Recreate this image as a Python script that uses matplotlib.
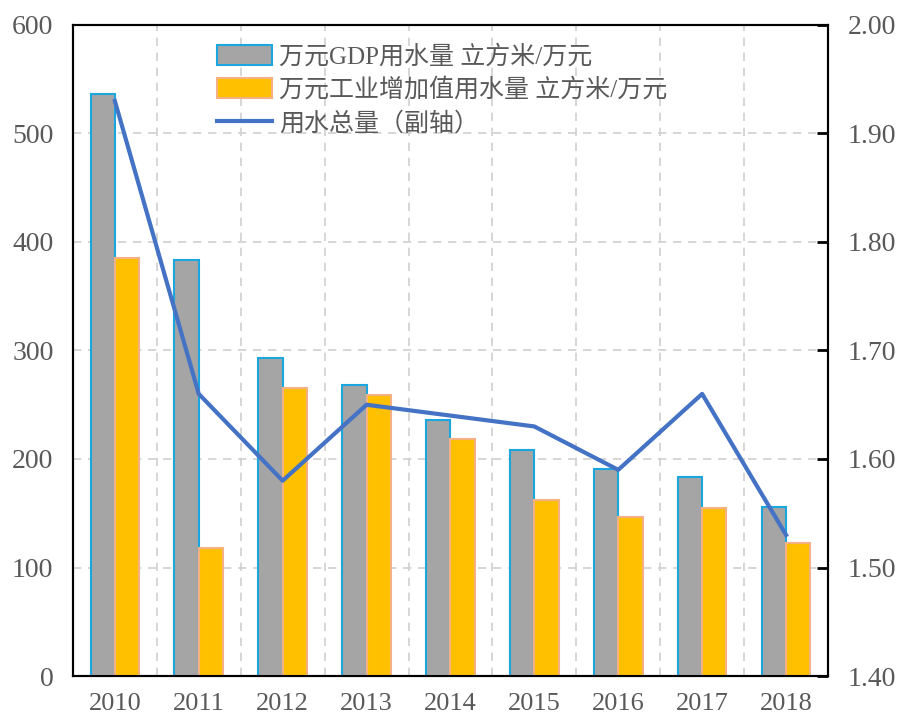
import numpy as np
import matplotlib.pyplot as plt

years = ["2010", "2011", "2012", "2013", "2014", "2015", "2016", "2017", "2018"]
gdp_water = [536, 383, 293, 268, 236, 208, 191, 183, 156]
ind_water = [385, 118, 265, 259, 218, 162, 147, 155, 123]
total_water = [1.93, 1.66, 1.58, 1.65, 1.64, 1.63, 1.59, 1.66, 1.53]

txt = "#595959"
serif = ["Liberation Serif", "Noto Sans CJK SC"]

fig = plt.figure(figsize=(9, 7.22), dpi=100)
ax = fig.add_axes([0.081, 0.0637, 0.839, 0.9017])
ax2 = ax.twinx()

x = np.arange(len(years))
w = 0.29
ax.bar(x - w / 2, gdp_water, w, color="#A5A5A5", edgecolor="#1AA7E0", linewidth=1.5,
       label="万元GDP用水量 立方米/万元", zorder=3)
ax.bar(x + w / 2, ind_water, w, color="#FFC000", edgecolor="#F4B183", linewidth=1.5,
       label="万元工业增加值用水量 立方米/万元", zorder=3)
ax2.plot(x, total_water, color="#4472C4", linewidth=3, label="用水总量（副轴）")

ax.set_xlim(-0.5, len(years) - 0.5)
ax.set_ylim(0, 600)
ax.set_yticks(np.arange(0, 601, 100))
ax2.set_ylim(1.4, 2.0)
ax2.set_yticks(np.arange(1.4, 2.001, 0.1))
ax2.set_yticklabels([f"{v:.2f}" for v in np.arange(1.4, 2.001, 0.1)])

ax.set_xticks(x)
ax.set_xticklabels(years)
ax.set_xticks(np.arange(0.5, len(years) - 0.5, 1), minor=True)
ax.grid(axis="y", which="major", color="#D0D0D0", linestyle=(0, (5, 4)), linewidth=1.2, zorder=0)
ax.grid(axis="x", which="minor", color="#D0D0D0", linestyle=(0, (5, 4)), linewidth=1.2, zorder=0)
ax.set_axisbelow(True)

ax.tick_params(axis="x", which="both", length=0, pad=12, labelsize=19, labelcolor=txt)
ax.tick_params(axis="y", length=0, pad=14, labelsize=20, labelcolor=txt)
ax2.tick_params(axis="y", direction="in", length=8, width=2, pad=14, labelsize=20, labelcolor=txt)
for lab in ax.get_xticklabels() + ax.get_yticklabels() + ax2.get_yticklabels():
    lab.set_fontfamily(serif)

for a in (ax, ax2):
    for s in a.spines.values():
        s.set_linewidth(1.5)
        s.set_color("black")

h1, l1 = ax.get_legend_handles_labels()
h2, l2 = ax2.get_legend_handles_labels()
ax.legend(h1 + h2, l1 + l2, loc="upper left", bbox_to_anchor=(0.165, 1.0), frameon=False,
          prop={"family": serif, "size": 18}, labelcolor=txt, handlelength=2.2,
          handleheight=0.85, labelspacing=0.38, handletextpad=0.25, borderpad=0.3)

fig.savefig("out.png", dpi=100)
